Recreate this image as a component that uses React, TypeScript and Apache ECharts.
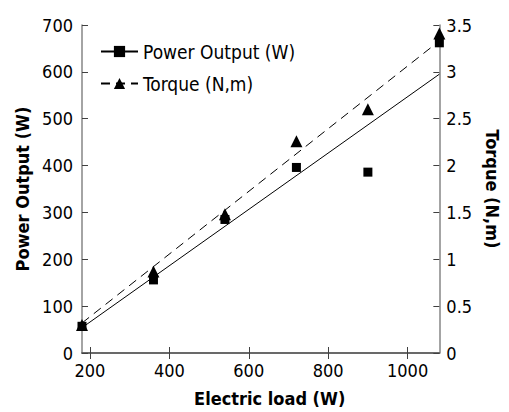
import React, { useEffect, useRef } from "react";
import * as echarts from "echarts";

const electricLoad = [180, 360, 540, 720, 900, 1080];
const powerOutput = [57, 156, 285, 396, 386, 662];
const torque = [0.3, 0.87, 1.48, 2.26, 2.6, 3.41];
// trend line end points
const powerTrendX = [180, 1080];
const powerTrendY = [54, 595];
const torqueTrendX = [180, 1080];
const torqueTrendY = [0.32, 3.33];
const xTicks = [200, 400, 600, 800, 1000];

const FONT = "'DejaVu Sans Condensed', 'DejaVu Sans', sans-serif";

export default function App() {
  const ref = useRef<HTMLDivElement>(null);
  useEffect(() => {
    if (!ref.current) return;
    const chart = echarts.init(ref.current, undefined, { renderer: "svg" });
    const axisLineColor = "#868686";
    const tickColor = "#404040";
    const option: any = {
      animation: false,
      backgroundColor: "#ffffff",
      textStyle: { fontFamily: FONT },
      grid: { left: 82, right: 61, top: 25, bottom: 58, containLabel: false },
      legend: {
        data: ["Power Output (W)", "Torque (N,m)"],
        orient: "vertical",
        left: 95,
        top: 37,
        itemWidth: 37,
        itemHeight: 14,
        itemGap: 13,
        textStyle: { fontFamily: FONT, fontSize: 19, color: "#000" },
      },
      xAxis: [
        {
          type: "value",
          min: 180,
          max: 1080,
          position: "bottom",
          name: "Electric load (W)",
          nameLocation: "middle",
          nameGap: 36,
          nameTextStyle: { fontFamily: FONT, fontSize: 18, fontWeight: "bold", color: "#000", padding: [0, 0, 0, 18] },
          splitLine: { show: false },
          axisLine: { lineStyle: { color: axisLineColor, width: 1.5 } },
          axisTick: { inside: true, length: 6, customValues: xTicks, lineStyle: { color: tickColor } },
          axisLabel: {
            customValues: xTicks,
            formatter: (v: number) => String(v),
            fontFamily: FONT,
            fontSize: 18,
            color: "#000",
            margin: 8,
          },
        },
        {
          type: "value",
          min: 180,
          max: 1080,
          position: "top",
          splitLine: { show: false },
          axisLine: { lineStyle: { color: "#555", width: 1.5 } },
          axisTick: { inside: true, length: 6, customValues: xTicks, lineStyle: { color: tickColor } },
          axisLabel: { show: false },
        },
      ],
      yAxis: [
        {
          type: "value",
          min: 0,
          max: 700,
          interval: 100,
          position: "left",
          name: "Power Output (W)",
          nameLocation: "middle",
          nameRotate: 90,
          nameGap: 50,
          nameTextStyle: { fontFamily: FONT, fontSize: 18, fontWeight: "bold", color: "#000" },
          splitLine: { show: false },
          axisLine: { show: true, lineStyle: { color: axisLineColor, width: 1.5 } },
          axisTick: { show: true, inside: true, length: 6, lineStyle: { color: tickColor } },
          axisLabel: { formatter: (v: number) => String(v), fontFamily: FONT, fontSize: 18, color: "#000", margin: 9 },
        },
        {
          type: "value",
          min: 0,
          max: 3.5,
          interval: 0.5,
          position: "right",
          name: "Torque (N,m)",
          nameLocation: "middle",
          nameRotate: -90,
          nameGap: 39,
          nameTextStyle: { fontFamily: FONT, fontSize: 18, fontWeight: "bold", color: "#000" },
          splitLine: { show: false },
          axisLine: { show: true, lineStyle: { color: axisLineColor, width: 1.5 } },
          axisTick: { show: true, inside: true, length: 6, lineStyle: { color: tickColor } },
          axisLabel: { formatter: (v: number) => String(v), fontFamily: FONT, fontSize: 18, color: "#000", margin: 7 },
        },
      ],
      series: [
        {
          name: "Power Output (W)",
          type: "line",
          xAxisIndex: 0,
          yAxisIndex: 0,
          data: powerTrendX.map((x, i) => [x, powerTrendY[i]]),
          symbol: "rect",
          showSymbol: false,
          lineStyle: { color: "#000", width: 1, type: "solid" },
          itemStyle: { color: "#000", opacity: 1 },
          z: 2,
        },
        {
          name: "Torque (N,m)",
          type: "line",
          xAxisIndex: 0,
          yAxisIndex: 1,
          data: torqueTrendX.map((x, i) => [x, torqueTrendY[i]]),
          symbol: "triangle",
          showSymbol: false,
          lineStyle: { color: "#000", width: 1, type: [9, 6] },
          itemStyle: { color: "#000", opacity: 1 },
          z: 2,
        },
        {
          name: "Power Output (W)",
          type: "scatter",
          xAxisIndex: 0,
          yAxisIndex: 0,
          data: electricLoad.map((x, i) => [x, powerOutput[i]]),
          symbol: "rect",
          symbolSize: 9,
          itemStyle: { color: "#000", opacity: 1 },
          z: 3,
        },
        {
          name: "Torque (N,m)",
          type: "scatter",
          xAxisIndex: 0,
          yAxisIndex: 1,
          data: electricLoad.map((x, i) => [x, torque[i]]),
          symbol: "triangle",
          symbolSize: 12,
          itemStyle: { color: "#000", opacity: 1 },
          z: 4,
        },
      ],
    };
    chart.setOption(option);
    return () => chart.dispose();
  }, []);
  return (
    <div
      ref={ref}
      style={{ position: "fixed", left: 0, top: 0, width: 509, height: 412, background: "#fff" }}
    />
  );
}
